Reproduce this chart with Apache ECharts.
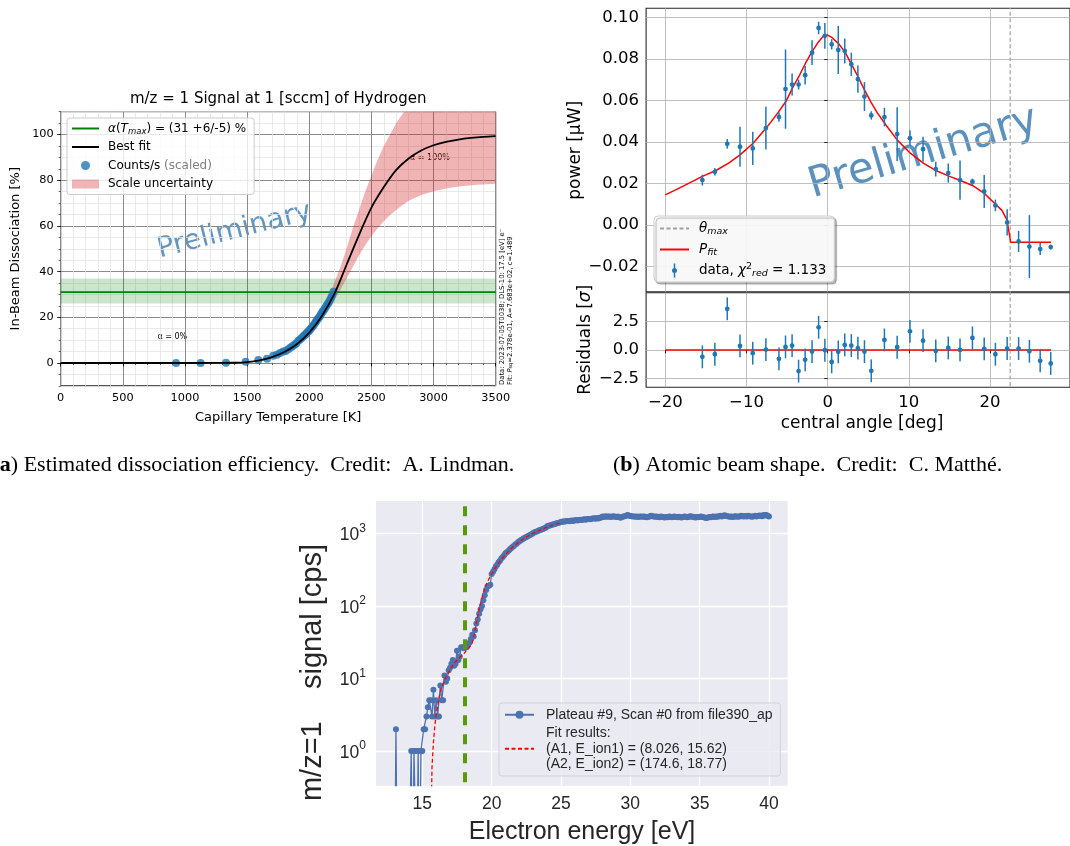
<!DOCTYPE html>
<html><head><meta charset="utf-8">
<script src="https://cdn.jsdelivr.net/npm/echarts@6/dist/echarts.min.js"></script>
<style>html,body{margin:0;padding:0;background:#fff}#c{width:1070px;height:846px}</style>
</head><body><div id="c"></div>
<script>
// ================= Panel (a): dissociation efficiency =================
const A_T_POINTS = [928, 1126, 1330, 1488, 1590, 1660, 1710, 1740, 1765, 1790, 1810, 1830, 1850, 1865, 1880, 1895, 1910, 1925, 1940, 1955, 1965, 1975, 1985, 1995, 2005, 2015, 2025, 2035, 2045, 2055, 2065, 2075, 2085, 2095, 2105, 2115, 2125, 2135, 2145, 2155, 2165, 2175, 2185, 2195];
const A_Y_POINTS = [0.0, 0.0, 0.1, 0.6, 1.3, 1.9, 3.2, 3.6, 4.4, 5.0, 5.3, 6.0, 6.8, 7.3, 8.0, 8.5, 9.6, 10.3, 11.0, 11.8, 12.3, 12.8, 13.5, 13.9, 14.6, 15.2, 15.9, 16.5, 17.4, 18.2, 19.0, 19.7, 20.5, 21.4, 22.3, 23.0, 23.8, 24.7, 25.6, 26.4, 27.4, 28.4, 29.6, 31.2];
const A_FIT_T = [0, 500, 1000, 1200, 1400, 1500, 1600, 1700, 1800, 1900, 2000, 2100, 2200, 2300, 2400, 2500, 2600, 2700, 2800, 2900, 3000, 3100, 3200, 3300, 3400, 3500];
const A_FIT_Y = [0, 0, 0, 0.02, 0.1, 0.4, 1.2, 2.6, 4.8, 8.2, 13.3, 20.5, 30, 43, 56, 68, 77, 84.5, 89.5, 93, 95.3, 96.8, 97.8, 98.5, 99, 99.3];
const A_BAND_T  = [2050, 2100, 2150, 2200, 2250, 2300, 2350, 2400, 2450, 2500, 2550, 2600, 2650, 2700, 2750, 2800, 2900, 3000, 3100, 3200, 3350, 3500];
const A_BAND_LO = [16, 19.5, 23.5, 27.5, 32, 37, 42, 47, 51.5, 55.5, 59, 62, 64.8, 67, 69.2, 71, 73.5, 75.2, 76.4, 77.2, 78, 78.4];
const A_BAND_HI = [17, 22, 28, 35, 42, 50, 59, 67, 75, 82, 89, 95, 100, 105, 109, 112, 116, 118.5, 120.5, 122, 123.3, 124];
const A_ALPHA = 31, A_ALPHA_LO = 26, A_ALPHA_HI = 37;
const A_Y_TICKS = [0, 20, 40, 60, 80, 100];

// ================= Panel (b): atomic beam shape =================
const B_ANGLE = [-15.44, -13.9, -12.37, -10.8, -9.23, -7.61, -6.0, -5.19, -4.38, -3.58, -2.77, -1.92, -1.11, -0.34, 0.5, 1.31, 2.11, 2.92, 3.73, 4.54, 5.38, 7.0, 8.57, 10.15, 11.76, 13.33, 14.87, 16.32, 17.85, 19.3, 20.68, 22.13, 23.54, 24.87, 26.2, 27.5];
const B_POWER = [0.0216, 0.0256, 0.0391, 0.0377, 0.0369, 0.0467, 0.0520, 0.0655, 0.0677, 0.0677, 0.0722, 0.0831, 0.0950, 0.0912, 0.0871, 0.0844, 0.0839, 0.0775, 0.0703, 0.0619, 0.0528, 0.0520, 0.0438, 0.0418, 0.0365, 0.0269, 0.0250, 0.0216, 0.0208, 0.0161, 0.0094, 0.0012, -0.0080, -0.0105, -0.0117, -0.0107];
const B_POWER_ERR = [0.0026, 0.0018, 0.0023, 0.0096, 0.0080, 0.0103, 0.0023, 0.0191, 0.0053, 0.0024, 0.0045, 0.0060, 0.0030, 0.0062, 0.0025, 0.0116, 0.0060, 0.0056, 0.0066, 0.0070, 0.0020, 0.0045, 0.0130, 0.0039, 0.0060, 0.0036, 0.0046, 0.0095, 0.0015, 0.0080, 0.0028, 0.0063, 0.0051, 0.0152, 0.0029, 0.0012];
const B_RESID = [-0.61, -0.38, 3.60, 0.35, -0.29, 0.03, -0.78, 0.26, 0.38, -1.86, -0.87, -0.15, 1.98, -0.03, -1.05, -0.17, 0.44, 0.38, 0.15, -0.15, -1.83, 0.87, 0.23, 1.63, 0.81, -0.09, 0.17, 0.0, 1.05, 0.09, -0.38, 0.12, 0.12, -0.12, -0.96, -1.19];
const B_RESID_ERR = [1.0, 1.0, 1.0, 1.0, 1.0, 1.0, 1.0, 1.0, 1.0, 1.0, 1.0, 1.0, 1.0, 1.0, 1.0, 1.0, 1.0, 1.0, 1.0, 1.0, 1.0, 1.0, 1.0, 1.0, 1.0, 1.0, 1.0, 1.0, 1.0, 1.0, 1.0, 1.0, 1.0, 1.0, 1.0, 1.0];
const B_FIT_ANGLE = [-20, -17.86, -15.44, -13.83, -12.2, -10.8, -9.18, -7.57, -6.16, -5.15, -4.34, -3.54, -2.73, -1.92, -1.11, -0.51, 0.0, 0.5, 1.31, 2.11, 2.92, 3.73, 4.54, 5.34, 6.15, 7.16, 8.57, 10.19, 11.8, 13.41, 15.03, 16.44, 17.85, 19.27, 20.48, 21.49, 22.09, 22.57, 27.54];
const B_FIT_POWER = [0.0145, 0.0186, 0.0234, 0.0261, 0.0298, 0.0338, 0.0394, 0.0467, 0.0539, 0.0595, 0.066, 0.0716, 0.078, 0.0836, 0.0884, 0.0912, 0.0916, 0.0905, 0.0876, 0.0836, 0.0777, 0.0716, 0.0651, 0.0592, 0.0539, 0.0483, 0.0410, 0.0346, 0.0298, 0.0261, 0.0234, 0.0213, 0.0190, 0.0153, 0.0108, 0.0070, 0.0025, -0.0084, -0.0084];
const B_RESID_LINE_ANGLE = [-20, 27.54];
const B_RESID_LINE_VALUE = [0, 0];
const B_THETA_MAX = 22.5;
const B_X_TICKS = [-20, -10, 0, 10, 20];
const B_Y_TICKS = [-0.02, 0, 0.02, 0.04, 0.06, 0.08, 0.10];
const B_R_TICKS = [-2.5, 0, 2.5];

// ================= Panel (c): m/z=1 signal vs electron energy =================
const C_E0 = 13.0, C_STEP = 0.1;   // energy of first sample and scan step [eV]
const C_SIGNAL = [
  0, 2, 0, 0, 0, 0, 0, 0, 0, 0,
  0, 0, 1, 0, 1, 1, 0, 1, 0, 1,
  1, 2, 2, 3, 4, 5, 5, 3, 7, 3,
  5, 3, 3, 8, 5, 5, 11, 9, 10, 13,
  14, 16, 18, 15, 16, 24, 18, 20, 27, 27,
  26, 28, 27, 29, 31, 35, 40, 38, 46, 57,
  65, 78, 90, 100, 120, 140, 165, 185, 190, 195,
  275, 295, 320, 350, 370, 400, 420, 450, 470, 500,
  530, 550, 570, 600, 620, 650, 670, 700, 720, 750,
  780, 800, 820, 845, 870, 890, 910, 935, 955, 980,
  1010, 1030, 1050, 1070, 1090, 1110, 1130, 1150, 1170, 1190,
  1250, 1270, 1285, 1300, 1320, 1335, 1350, 1370, 1390, 1410,
  1430, 1450, 1440, 1460, 1470, 1480, 1460, 1490, 1500, 1480,
  1510, 1520, 1500, 1530, 1540, 1520, 1550, 1560, 1540, 1570,
  1580, 1560, 1590, 1600, 1610, 1590, 1620, 1600, 1640, 1650,
  1700, 1680, 1720, 1690, 1700, 1710, 1680, 1700, 1720, 1690,
  1680, 1700, 1660, 1640, 1680, 1700, 1720, 1750, 1780, 1760,
  1730, 1720, 1700, 1710, 1690, 1700, 1680, 1700, 1710, 1690,
  1700, 1680, 1660, 1690, 1710, 1740, 1720, 1700, 1690, 1710,
  1680, 1660, 1700, 1690, 1670, 1650, 1680, 1660, 1700, 1690,
  1670, 1690, 1700, 1680, 1660, 1690, 1670, 1650, 1680, 1700,
  1690, 1660, 1680, 1720, 1700, 1690, 1670, 1650, 1680, 1660,
  1690, 1700, 1680, 1660, 1640, 1620, 1650, 1680, 1660, 1690,
  1700, 1680, 1710, 1690, 1720, 1740, 1700, 1750, 1770, 1730,
  1720, 1700, 1690, 1710, 1680, 1700, 1720, 1690, 1700, 1710,
  1740, 1720, 1700, 1730, 1710, 1750, 1720, 1700, 1690, 1720,
  1740, 1710, 1730, 1760, 1750, 1720, 1780, 1760, 1790, 1740,
  1700
];
const C_FIT_E = [15.65, 15.7, 15.8, 15.9, 16.0, 16.2, 16.4, 16.6, 16.8, 17.0, 17.2, 17.4, 17.6, 17.8, 18.0, 18.2, 18.4, 18.6, 18.7, 18.8, 18.9, 19.0, 19.1, 19.2, 19.3, 19.4, 19.5, 19.6, 19.7, 19.8, 19.9, 20.0, 20.2, 20.4, 20.6, 21.0, 21.5, 22.0, 22.5, 23.0, 23.5, 24.0, 24.5, 25.0];
const C_FIT_S = [0.2, 0.6, 1.3, 2.2, 3.2, 5.3, 7.6, 9.5, 11.3, 13.2, 15.1, 17.0, 18.6, 20.2, 22, 24.5, 27, 31, 37, 46, 58, 73, 90, 108, 128, 150, 172, 195, 215, 235, 255, 275, 320, 365, 410, 510, 640, 770, 890, 1000, 1110, 1220, 1320, 1400];
const C_EMAX_LINE = 18.08;
const C_X_TICKS = [15, 20, 25, 30, 35, 40];
const C_Y_TICKS = [1, 10, 100, 1000];
const ZERO_FLOOR = 0.01; // zero counts drawn below the log axis floor (as matplotlib does)

// ---------------------------------------------------------------------------
const zip = (a, b) => a.map((v, i) => [v, b[i]]);
const MINUS = '\u2212';
const DJ = 'DejaVu Sans', LS = 'Liberation Sans', SERIF = 'Liberation Serif';

const chart = echarts.init(document.getElementById('c'), null, {renderer: 'canvas', width: 1070, height: 846});

function errRender(params, api) {
  const x = api.value(0), y = api.value(1), e = api.value(2);
  const c = api.coord([x, y]), t = api.coord([x, y + e]), b = api.coord([x, y - e]);
  const col = '#1f77b4';
  return {type: 'group', children: [
    {type: 'line', shape: {x1: c[0], y1: t[1], x2: c[0], y2: b[1]}, style: {stroke: col, lineWidth: 1.5}},
    {type: 'circle', shape: {cx: c[0], cy: c[1], r: 2.4}, style: {fill: col}}
  ]};
}

function bandRender(params, api) {
  if (params.dataIndex !== 0) return null;
  const lo = A_BAND_T.map((t, i) => api.coord([t, A_BAND_LO[i]]));
  const hi = A_BAND_T.map((t, i) => api.coord([t, A_BAND_HI[i]])).reverse();
  const cs = params.coordSys;
  return {type: 'polygon', shape: {points: lo.concat(hi)}, style: {fill: 'rgba(214,39,40,0.35)'},
          clipPath: {type: 'rect', shape: {x: cs.x, y: cs.y, width: cs.width, height: cs.height}}};
}

const ERR_ICON = 'path://M0,0 L0.01,0 L0.01,0.01 Z M29,14 L28.99,14 L28.99,13.99 Z M13.75,0 L15.25,0 L15.25,14 L13.75,14 Z M17,7 A2.5,2.5 0 1 1 12,7 A2.5,2.5 0 1 1 17,7 Z';
const HIDE_SYMBOL = {opacity: 0};

const supRich = (fs) => ({
  b: {fontSize: fs, fontFamily: LS, color: '#262626', lineHeight: 22, verticalAlign: 'bottom'},
  s: {fontSize: Math.round(fs * 0.7), fontFamily: LS, color: '#262626', lineHeight: 12, verticalAlign: 'top'}
});

const option = {
  animation: false,
  backgroundColor: '#ffffff',
  textStyle: {fontFamily: DJ},
  grid: [
    {left: 60.7, top: 111.65, width: 435, height: 274.2, show: true, borderColor: '#000', borderWidth: 1, backgroundColor: 'transparent'},
    {left: 646.1, top: 8.3, width: 431.4, height: 283.5, show: true, borderColor: '#262626', borderWidth: 1.1, backgroundColor: 'transparent'},
    {left: 646.1, top: 292.8, width: 431.4, height: 94.5, show: true, borderColor: '#262626', borderWidth: 1.1, backgroundColor: 'transparent'},
    {left: 376, top: 501, width: 411.7, height: 284.7, show: true, borderWidth: 0, backgroundColor: '#EAEAF2'}
  ],
  xAxis: [
    // (a) minor
    {gridIndex: 0, type: 'value', min: 0, max: 3500, interval: 100, position: 'bottom', axisLine: {show: false},
     axisTick: {show: true, length: 2, lineStyle: {color: '#000', width: 0.6}}, axisLabel: {show: false},
     splitLine: {show: true, lineStyle: {color: '#e3e3e3', width: 0.8}}},
    // (a) major
    {gridIndex: 0, type: 'value', min: 0, max: 3500, interval: 500, position: 'bottom', axisLine: {show: false},
     axisTick: {show: true, length: 3.5, lineStyle: {color: '#000', width: 0.8}},
     axisLabel: {fontSize: 11.3, color: '#000', margin: 7, fontFamily: DJ, formatter: v => String(v)},
     splitLine: {show: true, lineStyle: {color: '#8a8a8a', width: 1}}},
    // (b) top
    {gridIndex: 1, type: 'value', min: -22.375, max: 29.875, axisLine: {show: false},
     axisTick: {show: false, customValues: B_X_TICKS}, axisLabel: {show: false, customValues: B_X_TICKS},
     splitLine: {show: true, lineStyle: {color: '#b0b0b0', width: 0.8}}},
    // (b) residuals
    {gridIndex: 2, type: 'value', min: -22.375, max: 29.875, axisLine: {show: false},
     axisTick: {show: true, length: 3.5, customValues: B_X_TICKS, lineStyle: {color: '#000', width: 0.8}},
     axisLabel: {customValues: B_X_TICKS, fontSize: 16.5, color: '#000', margin: 7, fontFamily: DJ,
       formatter: v => (v < 0 ? MINUS : '') + Math.abs(v)},
     splitLine: {show: true, lineStyle: {color: '#b0b0b0', width: 0.8}}},
    // (c)
    {gridIndex: 3, type: 'value', min: 11.66, max: 41.35, axisLine: {show: false},
     axisTick: {show: false, customValues: C_X_TICKS},
     axisLabel: {customValues: C_X_TICKS, fontSize: 17.5, color: '#262626', margin: 9, fontFamily: LS},
     splitLine: {show: true, lineStyle: {color: '#ffffff', width: 1.3}}}
  ],
  yAxis: [
    // (a) minor
    {gridIndex: 0, type: 'value', min: -10, max: 110, interval: 5, position: 'left', axisLine: {show: false},
     axisTick: {show: true, length: 2, lineStyle: {color: '#000', width: 0.6}}, axisLabel: {show: false},
     splitLine: {show: true, lineStyle: {color: '#e3e3e3', width: 0.8}}},
    // (a) major
    {gridIndex: 0, type: 'value', min: -10, max: 110, position: 'left', axisLine: {show: false},
     axisTick: {show: true, length: 3.5, customValues: A_Y_TICKS, lineStyle: {color: '#000', width: 0.8}},
     axisLabel: {customValues: A_Y_TICKS, fontSize: 11.3, color: '#000', margin: 7, fontFamily: DJ},
     splitLine: {show: true, lineStyle: {color: '#8a8a8a', width: 1}}},
    // (b) top
    {gridIndex: 1, type: 'value', min: -0.0323, max: 0.1045, position: 'left', axisLine: {show: false},
     axisTick: {show: true, length: 3.5, customValues: B_Y_TICKS, lineStyle: {color: '#000', width: 0.8}},
     axisLabel: {customValues: B_Y_TICKS, fontSize: 16.5, color: '#000', margin: 7, fontFamily: DJ,
       formatter: v => (v < -1e-9 ? MINUS : '') + Math.abs(v).toFixed(2)},
     splitLine: {show: true, lineStyle: {color: '#b0b0b0', width: 0.8}}},
    // (b) residuals
    {gridIndex: 2, type: 'value', min: -3.278, max: 5.004, position: 'left', axisLine: {show: false},
     axisTick: {show: true, length: 3.5, customValues: B_R_TICKS, lineStyle: {color: '#000', width: 0.8}},
     axisLabel: {customValues: B_R_TICKS, fontSize: 16.5, color: '#000', margin: 7, fontFamily: DJ,
       formatter: v => (v < -1e-9 ? MINUS : '') + Math.abs(v).toFixed(1)},
     splitLine: {show: true, lineStyle: {color: '#b0b0b0', width: 0.8}}},
    // (c) log
    {gridIndex: 3, type: 'log', logBase: 10, min: 0.333, max: 2786, position: 'left', axisLine: {show: false},
     axisTick: {show: false, customValues: C_Y_TICKS},
     axisLabel: {customValues: C_Y_TICKS, margin: 10, rich: supRich(17.5),
       formatter: v => '{b|10}{s|' + Math.round(Math.log10(v)) + '}'},
     splitLine: {show: true, lineStyle: {color: '#ffffff', width: 1.3}}}
  ],
  legend: [
    {orient: 'vertical', left: 67, top: 118, padding: [3, 8, 3, 4], itemGap: 3.5, itemWidth: 27, itemHeight: 9,
     backgroundColor: 'rgba(255,255,255,0.8)', borderColor: '#cccccc', borderWidth: 1, borderRadius: 3, selectedMode: false,
     data: [{name: 'alphaTmax', itemStyle: HIDE_SYMBOL}, {name: 'Best fit', itemStyle: HIDE_SYMBOL}, {name: 'Counts/s (scaled)'},
            {name: 'Scale uncertainty', icon: 'rect', itemStyle: {color: 'rgba(214,39,40,0.35)'}}],
     formatter: n => ({alphaTmax: '{i|α}({i|T}{sub|max}) = (31 +6/-5) %', 'Counts/s (scaled)': 'Counts/s {g|(scaled)}'}[n] || n),
     textStyle: {fontFamily: DJ, fontSize: 12, color: '#000', padding: [0, 0, 0, 4], lineHeight: 15,
       rich: {i: {fontStyle: 'italic', fontSize: 12, fontFamily: DJ, lineHeight: 15},
              sub: {fontStyle: 'italic', fontSize: 8.5, fontFamily: DJ, lineHeight: 9, verticalAlign: 'bottom'},
              g: {color: '#7f7f7f', fontSize: 12, fontFamily: DJ, lineHeight: 15}}}},
    {orient: 'vertical', left: 654, top: 216, padding: [4, 8, 3, 5], itemGap: 4, itemWidth: 29, itemHeight: 14,
     backgroundColor: 'rgba(255,255,255,0.9)', borderColor: '#cccccc', borderWidth: 1, borderRadius: 4, selectedMode: false,
     shadowColor: 'rgba(0,0,0,0.3)', shadowOffsetX: 2, shadowOffsetY: 2, shadowBlur: 1,
     data: [{name: 'θmax', itemStyle: HIDE_SYMBOL}, {name: 'P_fit', itemStyle: HIDE_SYMBOL}, {name: 'data', icon: ERR_ICON, itemStyle: {color: '#1f77b4'}}],
     formatter: n => ({'θmax': '{i|θ}{sub|max}', 'P_fit': '{i|P}{sub|fit}', data: 'data, {i|χ}{sup|2}{sub|red} = 1.133'}[n] || n),
     textStyle: {fontFamily: DJ, fontSize: 13.5, color: '#000', padding: [0, 0, 0, 5], lineHeight: 17,
       rich: {i: {fontStyle: 'italic', fontSize: 13.5, fontFamily: DJ, lineHeight: 17},
              sub: {fontStyle: 'italic', fontSize: 9.5, fontFamily: DJ, lineHeight: 10, verticalAlign: 'bottom'},
              sup: {fontSize: 9.5, fontFamily: DJ, lineHeight: 10, verticalAlign: 'top'}}}},
    {orient: 'vertical', left: 499, top: 703, padding: [4, 8, 4, 5], itemGap: 3, itemWidth: 29, itemHeight: 10,
     backgroundColor: 'rgba(234,234,242,0.8)', borderColor: 'rgba(204,204,210,0.8)', borderWidth: 1, borderRadius: 3, selectedMode: false,
     data: [{name: 'Plateau #9, Scan #0 from file390_ap'},
            {name: 'Fit results:\n(A1, E_ion1) = (8.026, 15.62)\n(A2, E_ion2) = (174.6, 18.77)', itemStyle: HIDE_SYMBOL}],
     textStyle: {fontFamily: LS, fontSize: 14, color: '#262626', lineHeight: 15.5, padding: [0, 0, 0, 7]}}
  ],
  series: [
    // ---------- (a) ----------
    {name: 'Scale uncertainty', type: 'custom', xAxisIndex: 1, yAxisIndex: 1, silent: true, renderItem: bandRender,
     itemStyle: {color: 'rgba(214,39,40,0.35)'}, encode: {x: 0, y: [1, 2]}, dimensions: ['t', 'lo', 'hi'],
     data: A_BAND_T.map((t, i) => [t, A_BAND_LO[i], A_BAND_HI[i]]), z: 2},
    {name: 'alphaTmax', type: 'line', xAxisIndex: 1, yAxisIndex: 1, symbol: 'none', silent: true,
     lineStyle: {color: '#008000', width: 1.6}, itemStyle: {color: '#008000'},
     data: [[0, A_ALPHA], [3500, A_ALPHA]], z: 3,
     markArea: {silent: true, itemStyle: {color: 'rgba(0,128,0,0.2)'}, data: [[{yAxis: A_ALPHA_LO}, {yAxis: A_ALPHA_HI}]]}},
    {name: 'Counts/s (scaled)', type: 'scatter', xAxisIndex: 1, yAxisIndex: 1, symbolSize: 8, silent: true,
     itemStyle: {color: '#1f77b4'}, data: zip(A_T_POINTS, A_Y_POINTS), z: 4},
    {name: 'Best fit', type: 'line', xAxisIndex: 1, yAxisIndex: 1, symbol: 'none', smooth: 0.3, silent: true,
     lineStyle: {color: '#000', width: 1.8}, itemStyle: {color: '#000'}, data: zip(A_FIT_T, A_FIT_Y), z: 5},

    // ---------- (b) top ----------
    {name: 'θmax', type: 'line', xAxisIndex: 2, yAxisIndex: 2, symbol: 'none', silent: true,
     lineStyle: {color: '#a0a0a0', width: 1.2, type: [4, 2.5]}, itemStyle: {color: '#a0a0a0'},
     data: [[B_THETA_MAX, -1], [B_THETA_MAX, 1]], z: 2},
    {name: 'P_fit', type: 'line', xAxisIndex: 2, yAxisIndex: 2, symbol: 'none', silent: true,
     lineStyle: {color: '#ff0000', width: 1.5}, itemStyle: {color: '#ff0000'}, data: zip(B_FIT_ANGLE, B_FIT_POWER), z: 3},
    {name: 'data', type: 'custom', xAxisIndex: 2, yAxisIndex: 2, silent: true, renderItem: errRender,
     itemStyle: {color: '#1f77b4'}, encode: {x: 0, y: 1}, dimensions: ['x', 'y', 'e'],
     data: B_ANGLE.map((a, i) => [a, B_POWER[i], B_POWER_ERR[i]]), z: 4},
    // ---------- (b) residuals ----------
    {name: 'θmax', type: 'line', xAxisIndex: 3, yAxisIndex: 3, symbol: 'none', silent: true,
     lineStyle: {color: '#a0a0a0', width: 1.2, type: [4, 2.5]}, itemStyle: {color: '#a0a0a0'},
     data: [[B_THETA_MAX, -10], [B_THETA_MAX, 10]], z: 2},
    {name: 'P_fit', type: 'line', xAxisIndex: 3, yAxisIndex: 3, symbol: 'none', silent: true,
     lineStyle: {color: '#ff0000', width: 1.5}, itemStyle: {color: '#ff0000'},
     data: zip(B_RESID_LINE_ANGLE, B_RESID_LINE_VALUE), z: 3},
    {name: 'data', type: 'custom', xAxisIndex: 3, yAxisIndex: 3, silent: true, renderItem: errRender,
     itemStyle: {color: '#1f77b4'}, encode: {x: 0, y: 1}, dimensions: ['x', 'y', 'e'],
     data: B_ANGLE.map((a, i) => [a, B_RESID[i], B_RESID_ERR[i]]), z: 4},

    // ---------- (c) ----------
    {name: 'Plateau #9, Scan #0 from file390_ap', type: 'line', xAxisIndex: 4, yAxisIndex: 4, silent: true, clip: true,
     symbol: 'circle', symbolSize: 6, showSymbol: true, lineStyle: {color: '#4c72b0', width: 1.3}, itemStyle: {color: '#4c72b0'},
     data: C_SIGNAL.map((v, i) => [+(C_E0 + i * C_STEP).toFixed(2), v > 0 ? v : ZERO_FLOOR]), z: 3},
    {name: 'Fit results:\n(A1, E_ion1) = (8.026, 15.62)\n(A2, E_ion2) = (174.6, 18.77)', type: 'line', xAxisIndex: 4, yAxisIndex: 4,
     silent: true, clip: true, symbol: 'none', lineStyle: {color: '#ff0000', width: 1.3, type: [4, 2.5]}, itemStyle: {color: '#ff0000'},
     data: zip(C_FIT_E, C_FIT_S), z: 4},
    {name: 'emax', type: 'line', xAxisIndex: 4, yAxisIndex: 4, silent: true, clip: true, symbol: 'none',
     lineStyle: {color: '#5a9a08', width: 4, type: [10, 9]}, data: [[C_EMAX_LINE, ZERO_FLOOR], [C_EMAX_LINE, 100000]], z: 5}
  ],
  graphic: []
};

chart.setOption(option);

// ---- text annotations (positions from data where they refer to data) ----
const pA0 = chart.convertToPixel({xAxisIndex: 1, yAxisIndex: 1}, [898, 11.2]);
const pA1 = chart.convertToPixel({xAxisIndex: 1, yAxisIndex: 1}, [2971, 89.8]);
const txt = (x, y, text, o) => Object.assign({type: 'text', x, y, silent: true,
  style: Object.assign({text, fill: '#000', fontFamily: DJ, fontSize: 12, align: 'center', verticalAlign: 'middle',
    textAlign: 'center', textVerticalAlign: 'middle'}, o.style || {})}, o.el || {});

const CAP = 22;
const graphics = [
  // panel (a)
  txt(278.2, 99, 'm/z = 1 Signal at 1 [sccm] of Hydrogen', {style: {fontSize: 15}}),
  txt(278.2, 417.5, 'Capillary Temperature [K]', {style: {fontSize: 13}}),
  txt(16, 248.7, 'In-Beam Dissociation [%]', {style: {fontSize: 13}, el: {rotation: Math.PI / 2}}),
  txt(pA0[0], pA0[1], 'α = 0%', {style: {fontSize: 8}}),
  txt(pA1[0], pA1[1], 'α = 100%', {style: {fontSize: 8}}),
  txt(234.5, 231, 'Preliminary', {style: {fontSize: 28, fill: 'rgba(70,130,180,0.85)'}, el: {rotation: 14.2 * Math.PI / 180}}),
  txt(502.5, 385, 'Data: 2023-07-05T0038; DLS-10: 17.5 [eV] e⁻', {style: {fontSize: 6.8, align: 'left', textAlign: 'left'}, el: {rotation: Math.PI / 2}}),
  txt(510, 385, 'Fit: {i|P}{s|sq}=2.378e-01, A=7.683e+02, c=1.489', {style: {fontSize: 6.8, align: 'left', textAlign: 'left',
     rich: {i: {fontStyle: 'italic', fontSize: 6.8, fontFamily: DJ}, s: {fontSize: 5, fontFamily: DJ, verticalAlign: 'bottom', lineHeight: 5}}},
     el: {rotation: Math.PI / 2}}),
  // panel (b)
  txt(575.5, 150.3, 'power [µW]', {style: {fontSize: 17}, el: {rotation: Math.PI / 2}}),
  txt(585.5, 339.8, 'Residuals [{i|σ}]', {style: {fontSize: 17, rich: {i: {fontStyle: 'italic', fontSize: 17, fontFamily: DJ}}}, el: {rotation: Math.PI / 2}}),
  txt(862, 423.3, 'central angle [deg]', {style: {fontSize: 17}}),
  txt(923.3, 153.3, 'Preliminary', {style: {fontSize: 42, fill: 'rgba(70,130,180,0.88)'}, el: {rotation: 16.5 * Math.PI / 180}}),
  // panel (c)
  txt(582, 831.7, 'Electron energy [eV]', {style: {fontSize: 25, fontFamily: LS, fill: '#262626'}}),
  txt(313, 672.5, 'm/z=1    signal [cps]', {style: {fontSize: 29, fontFamily: LS, fill: '#262626'}, el: {rotation: Math.PI / 2}}),
  // captions
  txt(-7.5, 465, '({b|a}) Estimated dissociation efficiency.  Credit:  A. Lindman.', {style: {fontSize: CAP, fontFamily: SERIF, align: 'left', textAlign: 'left',
     rich: {b: {fontWeight: 'bold', fontSize: CAP, fontFamily: SERIF}}}}),
  txt(613, 465, '({b|b}) Atomic beam shape.  Credit:  C. Matthé.', {style: {fontSize: CAP, fontFamily: SERIF, align: 'left', textAlign: 'left',
     rich: {b: {fontWeight: 'bold', fontSize: CAP, fontFamily: SERIF}}}})
];
chart.setOption({graphic: graphics});
</script>
</body></html>
